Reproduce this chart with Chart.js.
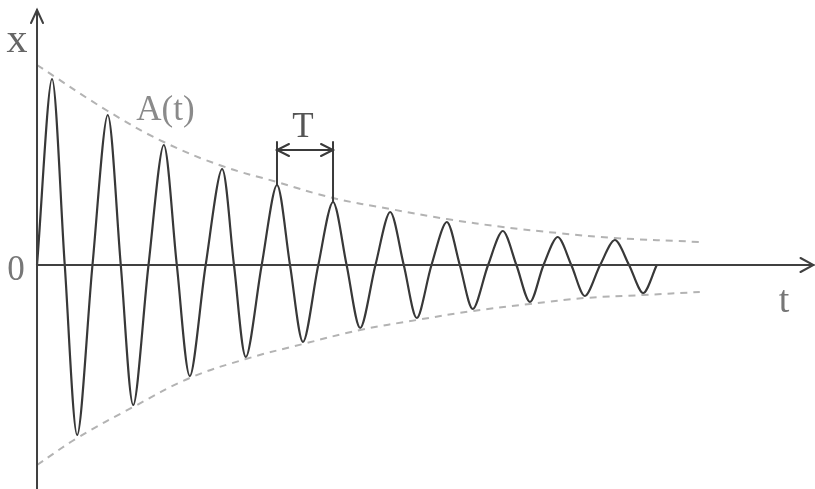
<!DOCTYPE html>
<html>
<head>
<meta charset="utf-8">
<script src="https://cdn.jsdelivr.net/npm/chart.js@4"></script>
<style>
  html, body { margin: 0; padding: 0; background: #fff; }
  canvas { display: block; }
</style>
</head>
<body>
<canvas id="chart" width="815" height="489"></canvas>
<script>
const waveT = [0, 0.265, 0.49, 0.71, 0.98, 1.25, 1.48, 1.70, 1.97, 2.24, 2.47, 2.70, 2.98, 3.27, 3.48,
  3.69, 3.97, 4.24, 4.47, 4.70, 4.97, 5.23, 5.47, 5.71, 5.98, 6.24, 6.48, 6.71, 6.97, 7.24, 7.47,
  7.70, 7.97, 8.23, 8.47, 8.71, 8.95, 9.20, 9.44, 9.68, 9.95, 10.21, 10.46, 10.71, 10.95];
const waveX = [0, 186, 0, -170, 0, 150, 0, -140, 0, 120, 0, -111, 0, 96, 0,
  -92, 0, 80, 0, -77, 0, 63, 0, -63, 0, 53, 0, -53, 0, 43, 0,
  -44, 0, 34, 0, -37, 0, 28, 0, -31, 0, 25, 0, -28, 0];

// envelope A(t) above and -A(t) below
const upperT = [0, 1.25, 2.24, 3.27, 4.24, 5.23, 6.24, 7.24, 8.23, 9.20, 10.21, 11.71];
const upperX = [200, 154, 123, 99, 83, 67, 56, 46, 38, 32, 27, 23];
const lowerT = [0, 0.71, 1.70, 2.70, 3.69, 4.70, 5.71, 6.71, 7.70, 8.71, 9.68, 10.71, 11.71];
const lowerX = [-200, -173, -142, -113, -94, -79, -65, -55, -46, -39, -33, -30, -27];

// period marker between two neighbouring maxima
const periodFrom = 4.24;
const periodTo = 5.23;

const toPoints = (ts, xs) => ts.map((t, i) => ({ x: t, y: xs[i] }));

const axesPlugin = {
  id: 'axes',
  afterDatasetsDraw(chart) {
    const { ctx, scales: { x, y } } = chart;
    const ox = x.getPixelForValue(0);
    const oy = y.getPixelForValue(0);
    const top = y.getPixelForValue(255);
    const right = x.getPixelForValue(13.72);
    ctx.save();
    ctx.strokeStyle = '#404040';
    ctx.lineWidth = 2;
    ctx.lineCap = 'round';
    // x axis (vertical) and t axis
    ctx.beginPath();
    ctx.moveTo(ox, chart.height);
    ctx.lineTo(ox, top);
    ctx.moveTo(ox, oy);
    ctx.lineTo(right, oy);
    ctx.stroke();
    // arrow heads
    ctx.beginPath();
    ctx.moveTo(ox - 6, top + 13);
    ctx.lineTo(ox, top);
    ctx.lineTo(ox + 6, top + 13);
    ctx.moveTo(right - 13, oy - 7);
    ctx.lineTo(right, oy);
    ctx.lineTo(right - 13, oy + 7);
    ctx.stroke();

    // period bracket
    const p1 = x.getPixelForValue(periodFrom);
    const p2 = x.getPixelForValue(periodTo);
    const bTop = y.getPixelForValue(123);
    const bMid = y.getPixelForValue(115);
    ctx.strokeStyle = '#3a3a3a';
    ctx.beginPath();
    ctx.moveTo(p1, bTop);
    ctx.lineTo(p1, y.getPixelForValue(80));
    ctx.moveTo(p2, bTop);
    ctx.lineTo(p2, y.getPixelForValue(63));
    ctx.moveTo(p1, bMid);
    ctx.lineTo(p2, bMid);
    ctx.moveTo(p1 + 12, bMid - 6);
    ctx.lineTo(p1, bMid);
    ctx.lineTo(p1 + 12, bMid + 6);
    ctx.moveTo(p2 - 12, bMid - 6);
    ctx.lineTo(p2, bMid);
    ctx.lineTo(p2 - 12, bMid + 6);
    ctx.stroke();

    // labels
    ctx.textAlign = 'center';
    ctx.textBaseline = 'alphabetic';
    ctx.fillStyle = '#666';
    ctx.font = '42px "Liberation Serif", serif';
    ctx.fillText('x', ox - 20, top + 42);
    ctx.font = '35px "Liberation Serif", serif';
    ctx.fillStyle = '#777';
    ctx.fillText('0', ox - 21, oy + 15);
    ctx.font = '38px "Liberation Serif", serif';
    ctx.fillText('t', x.getPixelForValue(13.2), oy + 47);
    ctx.fillStyle = '#8a8a8a';
    ctx.font = '35px "Liberation Serif", serif';
    ctx.fillText('A(t)', x.getPixelForValue(2.27), y.getPixelForValue(145));
    ctx.fillStyle = '#555';
    ctx.font = '35px "Liberation Serif", serif';
    ctx.fillText('T', (p1 + p2) / 2 - 2, bTop - 5);
    ctx.restore();
  }
};

new Chart(document.getElementById('chart').getContext('2d'), {
  type: 'scatter',
  data: {
    datasets: [
      {
        data: toPoints(upperT, upperX),
        showLine: true,
        borderColor: '#b3b3b3',
        borderWidth: 2,
        borderDash: [7, 6],
        pointRadius: 0,
        tension: 0.4
      },
      {
        data: toPoints(lowerT, lowerX),
        showLine: true,
        borderColor: '#b3b3b3',
        borderWidth: 2,
        borderDash: [7, 6],
        pointRadius: 0,
        tension: 0.4
      },
      {
        data: toPoints(waveT, waveX),
        showLine: true,
        borderColor: '#383838',
        borderWidth: 2.2,
        pointRadius: 0,
        tension: 0.3
      }
    ]
  },
  options: {
    responsive: false,
    animation: false,
    devicePixelRatio: 1,
    layout: { padding: 0 },
    plugins: { legend: { display: false }, tooltip: { enabled: false } },
    scales: {
      x: { type: 'linear', min: -0.654, max: 13.746, display: false },
      y: { type: 'linear', min: -224, max: 265, display: false }
    }
  },
  plugins: [axesPlugin]
});
</script>
</body>
</html>
